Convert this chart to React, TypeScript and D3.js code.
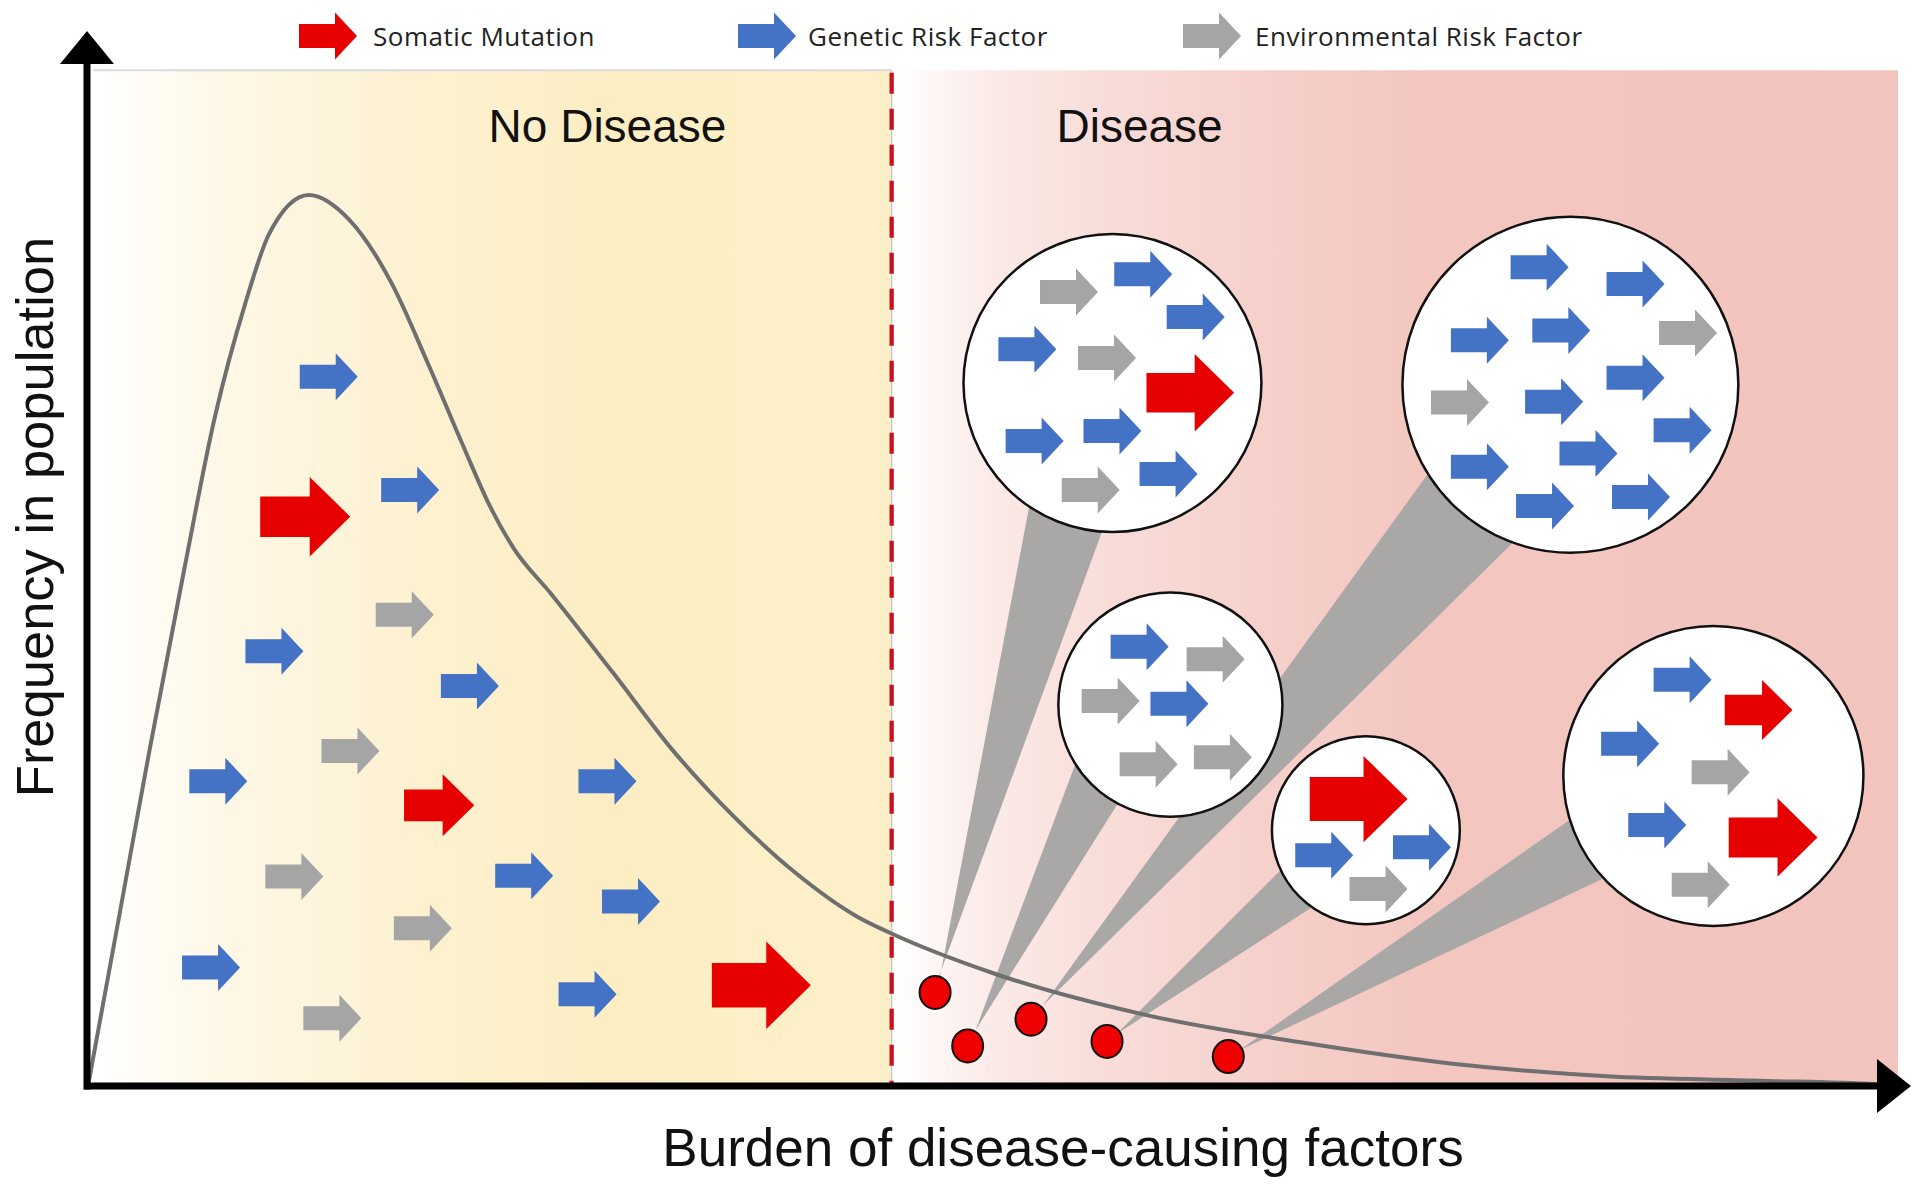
import React from 'react';
import * as d3 from 'd3';

// ---------- DATA ----------
// Population distribution curve: burden of disease-causing factors (0-100) vs frequency (0-100)
const curveBurden = [0, 1.7, 3.4, 5.3, 7.0, 8.7, 10.0, 12.2, 14.4, 16.8, 18.8, 20.8, 22.2, 23.5, 25.6, 29.0, 32.3, 35.7, 39.1, 42.5, 44.3, 50.1, 58.6, 67.0, 75.4, 83.9, 92.3, 98.7, 100];
const curveFrequency = [0, 18.8, 37.7, 57.8, 75.0, 87.9, 95.6, 100, 97.3, 90.0, 81.0, 71.5, 65.1, 60.4, 55.2, 46.4, 37.7, 30.2, 23.9, 19.0, 17.2, 12.6, 7.9, 4.9, 2.5, 1.1, 0.6, 0.2, 0];

const diseaseThreshold = 44.4;
const regionLabels = ['No Disease', 'Disease'];
const regionLabelBurden = [28.7, 58.1];

const legendLabels = ['Somatic Mutation', 'Genetic Risk Factor', 'Environmental Risk Factor'];
const legendTypes = ['somatic', 'genetic', 'environmental'];

// factors scattered under the curve: [type, burden, frequency, weight]
const looseFactors: [string, number, number, number][] = [
  ['genetic', 13.3, 79.6, 1],
  ['somatic', 12.0, 63.9, 1.5],
  ['genetic', 17.8, 66.9, 1],
  ['environmental', 17.5, 52.9, 1],
  ['genetic', 10.3, 48.8, 1],
  ['genetic', 21.1, 44.9, 1],
  ['environmental', 14.5, 37.6, 1],
  ['genetic', 7.2, 34.2, 1],
  ['somatic', 19.4, 31.5, 1.17],
  ['genetic', 28.7, 34.2, 1],
  ['environmental', 11.4, 23.5, 1],
  ['genetic', 24.1, 23.6, 1],
  ['genetic', 30.0, 20.7, 1],
  ['environmental', 18.5, 17.7, 1],
  ['genetic', 6.8, 13.3, 1],
  ['genetic', 27.6, 10.3, 1],
  ['environmental', 13.5, 7.6, 1],
  ['somatic', 37.2, 11.3, 1.65],
];

// affected individuals (red dots)
const individualBurden = [46.8, 48.6, 52.1, 56.3, 63.0];
const individualFreq = [10.5, 4.5, 7.5, 5.0, 3.3];

// magnified view for each individual: centre (burden, freq) and radius in burden units
const zoomBurden = [56.6, 59.8, 81.9, 70.6, 89.8];
const zoomFreq = [78.9, 42.8, 78.7, 28.7, 34.8];
const zoomRadius = [8.23, 6.19, 9.28, 5.19, 8.29];
const coneAngles: [number, number][] = [[94, 124], [118, 148], [110, 148], [125, 155], [137, 163]];

const zoomFactors: [string, number, number, number][][] = [
  [
    ['environmental', 54.2, 89.1, 1],
    ['genetic', 58.3, 91.1, 1],
    ['genetic', 61.2, 86.3, 1],
    ['genetic', 51.9, 82.7, 1],
    ['environmental', 56.3, 81.7, 1],
    ['somatic', 60.9, 77.8, 1.46],
    ['genetic', 52.3, 72.4, 1],
    ['genetic', 56.6, 73.5, 1],
    ['genetic', 59.7, 68.7, 1],
    ['environmental', 55.4, 66.9, 1],
  ],
  [
    ['genetic', 58.1, 49.3, 1],
    ['environmental', 62.3, 47.9, 1],
    ['environmental', 56.5, 43.2, 1],
    ['genetic', 60.3, 42.9, 1],
    ['environmental', 58.6, 36.1, 1],
    ['environmental', 62.7, 36.9, 1],
  ],
  [
    ['genetic', 80.2, 91.9, 1],
    ['genetic', 85.5, 90.0, 1],
    ['genetic', 76.9, 83.7, 1],
    ['genetic', 81.4, 84.8, 1],
    ['environmental', 88.4, 84.5, 1],
    ['genetic', 85.5, 79.5, 1],
    ['environmental', 75.8, 76.7, 1],
    ['genetic', 81.0, 76.8, 1],
    ['genetic', 88.1, 73.6, 1],
    ['genetic', 82.9, 71.0, 1],
    ['genetic', 76.9, 69.5, 1],
    ['genetic', 80.5, 65.1, 1],
    ['genetic', 85.8, 66.1, 1],
  ],
  [
    ['somatic', 70.2, 32.2, 1.63],
    ['genetic', 68.3, 25.9, 1],
    ['genetic', 73.7, 26.8, 1],
    ['environmental', 71.3, 22.1, 1],
  ],
  [
    ['genetic', 88.1, 45.6, 1],
    ['somatic', 92.3, 42.2, 1.13],
    ['genetic', 85.2, 38.4, 1],
    ['environmental', 90.2, 35.2, 1],
    ['genetic', 86.7, 29.3, 1],
    ['somatic', 93.1, 27.9, 1.48],
    ['environmental', 89.1, 22.6, 1],
  ],
];

// ---------- STYLE ----------
const colors: Record<string, string> = {
  somatic: '#E60000',
  genetic: '#4472C4',
  environmental: '#A5A5A5',
};

const W = 1920;
const H = 1185;

const x = d3.scaleLinear().domain([0, 100]).range([88, 1898]);
const y = d3.scaleLinear().domain([0, 100]).range([1086, 195]);

function arrowPath(type: string, weight: number, legend = false): string {
  const fat = type === 'somatic' && !legend;
  const L = (fat ? 60 : 58) * weight;
  const Hd = (fat ? 27 : 22) * weight;
  const T = (fat ? 27 : 24) * weight;
  const Wd = (fat ? 53 : 47) * weight;
  const p = d3.path();
  const x0 = -L / 2;
  const x1 = L / 2 - Hd;
  const x2 = L / 2;
  p.moveTo(x0, -T / 2);
  p.lineTo(x1, -T / 2);
  p.lineTo(x1, -Wd / 2);
  p.lineTo(x2, 0);
  p.lineTo(x1, Wd / 2);
  p.lineTo(x1, T / 2);
  p.lineTo(x0, T / 2);
  p.closePath();
  return p.toString();
}

function Arrow({ f }: { f: [string, number, number, number] }) {
  const [type, b, fr, w] = f;
  return <path d={arrowPath(type, w)} transform={`translate(${x(b)},${y(fr)})`} fill={colors[type]} />;
}

export default function App() {
  const curvePts: [number, number][] = curveBurden.map((b, i) => [b, curveFrequency[i]]);
  const line = d3
    .line<[number, number]>()
    .x((d) => x(d[0]))
    .y((d) => y(d[1]))
    .curve(d3.curveMonotoneX);

  const boxTop = y(114);
  const boxBottom = y(0) - 3;
  const boxLeft = x(0) + 5;
  const boxRight = x(100);
  const thr = x(diseaseThreshold);

  const zooms = zoomBurden.map((b, i) => {
    const cx = x(b);
    const cy = y(zoomFreq[i]);
    const r = x(b + zoomRadius[i]) - x(b);
    const dx = x(individualBurden[i]);
    const dy = y(individualFreq[i]);
    const [a1, a2] = coneAngles[i].map((a) => (a * Math.PI) / 180);
    const p = d3.path();
    p.moveTo(dx - 2, dy);
    p.lineTo(cx + r * Math.cos(a1), cy + r * Math.sin(a1));
    p.lineTo(cx + r * Math.cos(a2), cy + r * Math.sin(a2));
    p.lineTo(dx + 2, dy);
    p.closePath();
    return { cx, cy, r, dx, dy, cone: p.toString() };
  });

  const legendArrowX = [328, 767, 1212];
  const legendTextX = [373, 808, 1255];

  return (
    <svg width={W} height={H} viewBox={`0 0 ${W} ${H}`} style={{ position: 'absolute', left: 0, top: 0, background: '#fff' }}>
      <defs>
        <linearGradient id="yellowGrad" x1="0" x2="1" y1="0" y2="0">
          <stop offset="0" stopColor="#FFFFFF" />
          <stop offset="0.15" stopColor="#FEF8E8" />
          <stop offset="0.4" stopColor="#FDF1D1" />
          <stop offset="0.65" stopColor="#FCEDC3" />
          <stop offset="1" stopColor="#FDF0C9" />
        </linearGradient>
        <linearGradient id="pinkGrad" x1="0" x2="1" y1="0" y2="0">
          <stop offset="0" stopColor="#FFFFFF" />
          <stop offset="0.1" stopColor="#FBEAE7" />
          <stop offset="0.22" stopColor="#F8DCD8" />
          <stop offset="0.4" stopColor="#F5CEC8" />
          <stop offset="0.55" stopColor="#F3C6BF" />
          <stop offset="1" stopColor="#F2C4BD" />
        </linearGradient>
      </defs>

      {/* background regions */}
      <rect x={boxLeft} y={boxTop} width={thr - boxLeft} height={boxBottom - boxTop} fill="url(#yellowGrad)" />
      <rect x={thr + 2} y={boxTop} width={boxRight - thr - 2} height={boxBottom - boxTop} fill="url(#pinkGrad)" />
      <line x1={boxLeft} x2={thr} y1={boxTop} y2={boxTop} stroke="#DADADA" strokeWidth={2} />
      <line x1={thr} x2={thr} y1={boxTop} y2={boxBottom} stroke="#C9C9C9" strokeWidth={1.5} />
      <line x1={thr} x2={thr} y1={boxTop} y2={boxBottom} stroke="#C8101E" strokeWidth={4.3} strokeDasharray="21 15" strokeDashoffset={-2.4} />

      {/* region labels */}
      {regionLabels.map((t, i) => (
        <text key={t} x={x(regionLabelBurden[i])} y={y(105.9)} textAnchor="middle" fontFamily="'Liberation Sans', Arial, sans-serif" fontSize={46} fill="#111">
          {t}
        </text>
      ))}

      {/* loose factors */}
      {looseFactors.map((f, i) => (
        <Arrow key={`l${i}`} f={f} />
      ))}

      {/* cones */}
      {zooms.map((z, i) => (
        <path key={`c${i}`} d={z.cone} fill="#AAA7A7" />
      ))}

      {/* distribution curve */}
      <path d={line(curvePts) || ''} fill="none" stroke="#6F6F6F" strokeWidth={4} />

      {/* individuals */}
      {zooms.map((z, i) => (
        <ellipse key={`d${i}`} cx={z.dx} cy={z.dy} rx={15.5} ry={16.5} fill="#F00000" stroke="#111" strokeWidth={2} />
      ))}

      {/* magnified views */}
      {zooms.map((z, i) => (
        <g key={`z${i}`}>
          <circle cx={z.cx} cy={z.cy} r={z.r} fill="#FFFFFF" stroke="#111" strokeWidth={2.5} />
          {zoomFactors[i].map((f, j) => (
            <Arrow key={`zf${i}-${j}`} f={f} />
          ))}
        </g>
      ))}

      {/* axes */}
      <line x1={87} x2={87} y1={1089.5} y2={60} stroke="#000" strokeWidth={7} />
      <path d="M87,31L114,64L60,64Z" fill="#000" />
      <line x1={84} x2={1880} y1={1086} y2={1086} stroke="#000" strokeWidth={7} />
      <path d="M1911,1086L1877,1113L1877,1059Z" fill="#000" />

      {/* axis titles */}
      <text x={1063} y={1166} textAnchor="middle" fontFamily="'Liberation Sans', Arial, sans-serif" fontSize={53} fill="#111">
        Burden of disease-causing factors
      </text>
      <text transform="translate(53,517) rotate(-90)" textAnchor="middle" fontFamily="'Liberation Sans', Arial, sans-serif" fontSize={52.5} fill="#111">
        Frequency in population
      </text>

      {/* legend */}
      {legendLabels.map((t, i) => (
        <g key={t}>
          <path d={arrowPath(legendTypes[i], 1, true)} transform={`translate(${legendArrowX[i]},36)`} fill={colors[legendTypes[i]]} />
          <text x={legendTextX[i]} y={46} fontFamily="'Open Sans', sans-serif" fontSize={26} letterSpacing={0.5} fill="#222">
            {t}
          </text>
        </g>
      ))}
    </svg>
  );
}
